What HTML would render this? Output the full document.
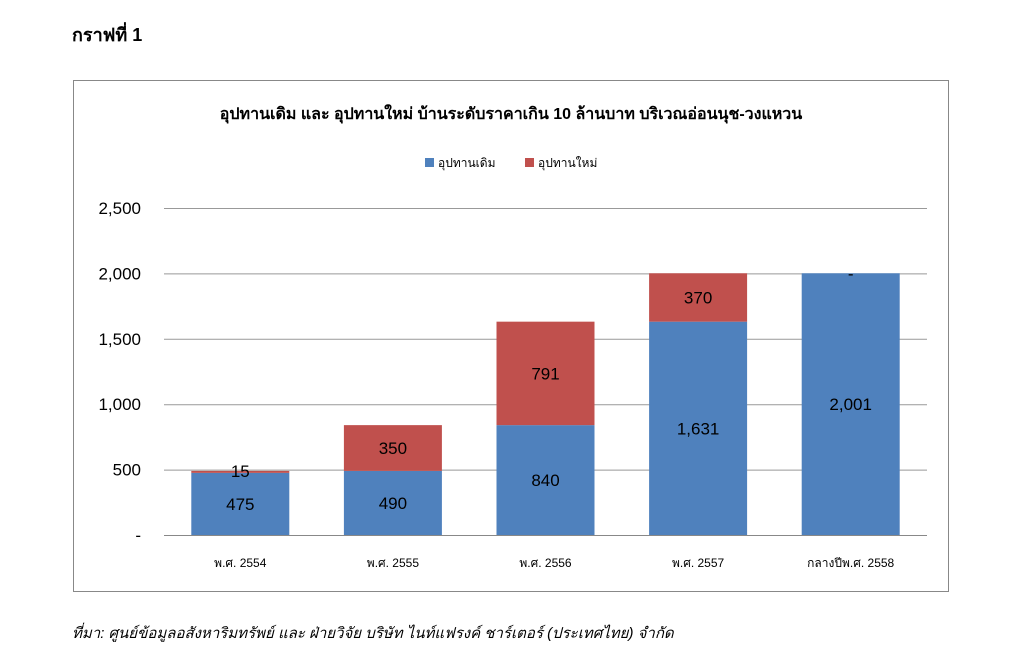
<!DOCTYPE html>
<html><head><meta charset="utf-8">
<style>
body{margin:0;width:1024px;height:655px;background:#fff;font-family:"Liberation Sans","Noto Sans CJK SC",sans-serif;position:relative;overflow:hidden}
.t{position:absolute;white-space:nowrap}
</style></head><body>
<div class="t" style="left:72px;top:20px;font-size:18px;font-weight:bold">กราฟที่ 1</div>
<svg width="1024" height="655" style="position:absolute;left:0;top:0" id="ch">
<rect x="73.5" y="80.5" width="875" height="511" fill="#fff" stroke="#888"/>
<text x="511" y="119" text-anchor="middle" font-size="16" font-weight="bold" font-family="Liberation Sans, Noto Sans CJK SC, sans-serif">อุปทานเดิม และ อุปทานใหม่ บ้านระดับราคาเกิน 10 ล้านบาท บริเวณอ่อนนุช-วงแหวน</text>
<rect x="425" y="158" width="9" height="9" fill="#4f81bd"/>
<text x="438" y="167" font-size="12" font-family="Liberation Sans, Noto Sans CJK SC, sans-serif">อุปทานเดิม</text>
<rect x="525" y="158" width="9" height="9" fill="#c0504d"/>
<text x="538" y="167" font-size="12" font-family="Liberation Sans, Noto Sans CJK SC, sans-serif">อุปทานใหม่</text>
<g id="g"></g>
</svg>
<div class="t" style="left:72px;top:621px;font-size:15px;font-style:italic">ที่มา: ศูนย์ข้อมูลอสังหาริมทรัพย์ และ ฝ่ายวิจัย บริษัท ไนท์แฟรงค์ ชาร์เตอร์ (ประเทศไทย) จำกัด</div>
<script>
const categories=["พ.ศ. 2554","พ.ศ. 2555","พ.ศ. 2556","พ.ศ. 2557","กลางปีพ.ศ. 2558"];
const oldSupply=[475,490,840,1631,2001];
const newSupply=[15,350,791,370,0];
const yTicks=[0,500,1000,1500,2000,2500];
const yTickLabels=["-","500","1,000","1,500","2,000","2,500"];
const NS="http://www.w3.org/2000/svg",g=document.getElementById('g');
const x0=164,x1=927,y0=535,y1=208,ymax=2500;
const y=v=>y0-(v/ymax)*(y0-y1);
const bw=(x1-x0)/categories.length;
const cx=i=>x0+bw*(i+0.5);
function mk(t,a,txt){const e=document.createElementNS(NS,t);for(const k in a)e.setAttribute(k,a[k]);if(txt!=null)e.textContent=txt;g.appendChild(e);return e;}
const ff="Liberation Sans, Noto Sans CJK SC, sans-serif";
yTicks.forEach((v,i)=>{
 const l=mk('line',{x1:x0,x2:x1,y1:y(v)+.5,y2:y(v)+.5,stroke:i==0?'#888':'#999'});
 
 
 const t=mk('text',{x:141,y:y(v)+6,'text-anchor':'end','font-size':17,'font-family':ff},yTickLabels[i]);
 
 
});
categories.forEach((c,i)=>{
 const w=98,bx=cx(i)-w/2;
 const r1=mk('rect',{x:bx,y:y(oldSupply[i]),width:w,height:y0-y(oldSupply[i]),fill:'#4f81bd'});
 
 
 const top=oldSupply[i]+newSupply[i];
 const r2=mk('rect',{x:bx,y:y(top),width:w,height:y(oldSupply[i])-y(top),fill:'#c0504d'});
 
 
 const t1=mk('text',{x:cx(i),y:(y0+y(oldSupply[i]))/2+6,'text-anchor':'middle','font-size':17,'font-family':ff},oldSupply[i].toLocaleString('en-US'));
 
 
 const nl=newSupply[i]===0?'-':newSupply[i].toLocaleString('en-US');
 const ny=newSupply[i]<60?y(top)+6:(y(oldSupply[i])+y(top))/2+6;
 const t2=mk('text',{x:cx(i),y:ny,'text-anchor':'middle','font-size':17,'font-family':ff},nl);
 
 
 const t3=mk('text',{x:cx(i),y:567,'text-anchor':'middle','font-size':12,'font-family':ff},c);
 
 
});
</script>
</body></html>
